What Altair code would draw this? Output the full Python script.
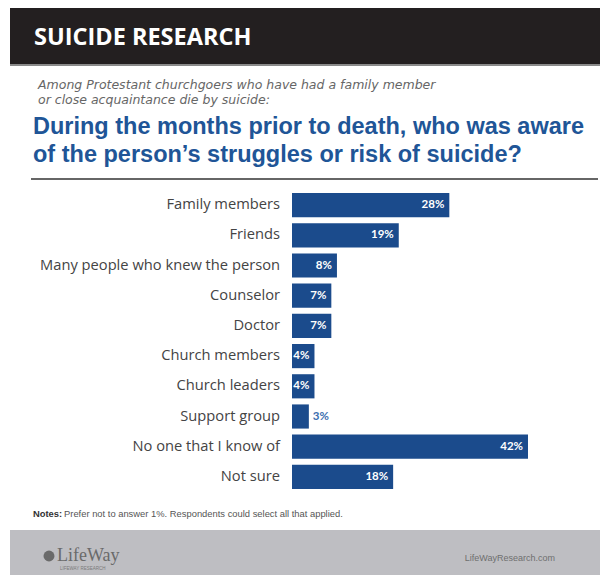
import altair as alt
import pandas as pd

categories = ["Family members", "Friends", "Many people who knew the person", "Counselor",
              "Doctor", "Church members", "Church leaders", "Support group",
              "No one that I know of", "Not sure"]
values = [28, 19, 8, 7, 7, 4, 4, 3, 42, 18]
value_labels = [f"{v}%" for v in values]

header = "SUICIDE RESEARCH"
subtitle_lines = ["Among Protestant churchgoers who have had a family member",
                  "or close acquaintance die by suicide:"]
title_lines = ["During the months prior to death, who was aware",
               "of the person\u2019s struggles or risk of suicide?"]
notes_bold = "Notes:"
notes_text = "Prefer not to answer 1%. Respondents could select all that applied."
logo_text = "LifeWay"
logo_sub = "LIFEWAY RESEARCH"
site_text = "LifeWayResearch.com"

BAR_BLUE = "#1b4b8c"
TITLE_BLUE = "#205597"

df = pd.DataFrame({"category": categories, "value": values, "label": value_labels})

xscale = alt.Scale(domain=[0, 42], range=[284, 520])
yscale = alt.Scale(domain=categories, range=[182, 484], paddingInner=0.2, paddingOuter=0.1)

one = alt.Data(values=[{}])

def txt(text, x, y, **kw):
    return alt.Chart(one).mark_text(**kw).encode(
        x=alt.value(x), y=alt.value(y), text=alt.value(text))

band = alt.Chart(one).mark_rect(color="#231f20").encode(
    x=alt.value(2), x2=alt.value(592), y=alt.value(0), y2=alt.value(56))
band_edge = alt.Chart(one).mark_rect(color="#8a8a8a").encode(
    x=alt.value(2), x2=alt.value(592), y=alt.value(56), y2=alt.value(58))
header_t = txt(header, 26, 30, font="Open Sans", fontSize=23.5, fontWeight="bold",
               color="white", align="left", baseline="middle")
sub1 = txt(subtitle_lines[0], 30, 77, font="DejaVu Sans", fontSize=12.5, fontStyle="italic",
           color="#666666", align="left", baseline="middle")
sub2 = txt(subtitle_lines[1], 30, 92, font="DejaVu Sans", fontSize=12.5, fontStyle="italic",
           color="#666666", align="left", baseline="middle")
t1 = txt(title_lines[0], 25, 119, font="Liberation Sans", fontSize=23.5, fontWeight="bold",
         color=TITLE_BLUE, align="left", baseline="middle")
t2 = txt(title_lines[1], 25, 147, font="Liberation Sans", fontSize=23.5, fontWeight="bold",
         color=TITLE_BLUE, align="left", baseline="middle")
rule = alt.Chart(one).mark_rule(color="#666666", strokeWidth=2).encode(
    x=alt.value(23), x2=alt.value(590), y=alt.value(171))

base = alt.Chart(df)
bars = base.mark_bar(color=BAR_BLUE).encode(
    x=alt.X("value:Q", scale=xscale, axis=None),
    x2=alt.datum(0),
    y=alt.Y("category:N", scale=yscale, axis=None, sort=categories),
)
cat_labels = base.mark_text(align="right", baseline="middle", font="Open Sans", fontSize=14.7,
                            color="#444444").encode(
    x=alt.value(272),
    y=alt.Y("category:N", scale=yscale, axis=None, sort=categories),
    text="category:N",
)
inside = base.transform_filter("datum.value >= 4").mark_text(
    align="right", baseline="middle", dx=-5, font="Lato", fontSize=11.5, fontWeight="bold",
    color="white").encode(
    x=alt.X("value:Q", scale=xscale, axis=None),
    y=alt.Y("category:N", scale=yscale, axis=None, sort=categories),
    text="label:N",
)
outside = base.transform_filter("datum.value < 4").mark_text(
    align="left", baseline="middle", dx=4, font="Lato", fontSize=11.5, fontWeight="bold",
    color="#3d6fb0").encode(
    x=alt.X("value:Q", scale=xscale, axis=None),
    y=alt.Y("category:N", scale=yscale, axis=None, sort=categories),
    text="label:N",
)

n1 = txt(notes_bold, 25, 506, font="Liberation Sans", fontSize=9.4, fontWeight="bold",
         color="#333333", align="left", baseline="middle")
n2 = txt(notes_text, 56, 506, font="Liberation Sans", fontSize=9.4,
         color="#555555", align="left", baseline="middle")

footer = alt.Chart(one).mark_rect(color="#bebec2").encode(
    x=alt.value(2), x2=alt.value(592), y=alt.value(522), y2=alt.value(567))
logo_icon = alt.Chart(one).mark_point(shape="circle", filled=True, size=120,
                                      color="#6a6a6a", opacity=1).encode(
    x=alt.value(41), y=alt.value(548))
logo = txt(logo_text, 49, 548, font="Liberation Serif", fontSize=18, color="#6a6a6a",
           align="left", baseline="middle")
logo_s = txt(logo_sub, 52, 561, font="Liberation Sans", fontSize=4.5, color="#7a7a7a",
             align="left", baseline="middle")
site = txt(site_text, 547, 550, font="Liberation Sans", fontSize=9, color="#6f6f6f",
           align="right", baseline="middle")

chart = alt.layer(
    band, band_edge, header_t, sub1, sub2, t1, t2, rule,
    bars, cat_labels, inside, outside, n1, n2,
    footer, logo_icon, logo, logo_s, site,
).properties(
    width=592, height=567,
    autosize=alt.AutoSizeParams(type="none"),
    padding=0,
    background="white",
).configure_view(stroke=None)

chart.save("out.html", embed_options={"renderer": "svg", "actions": False})
